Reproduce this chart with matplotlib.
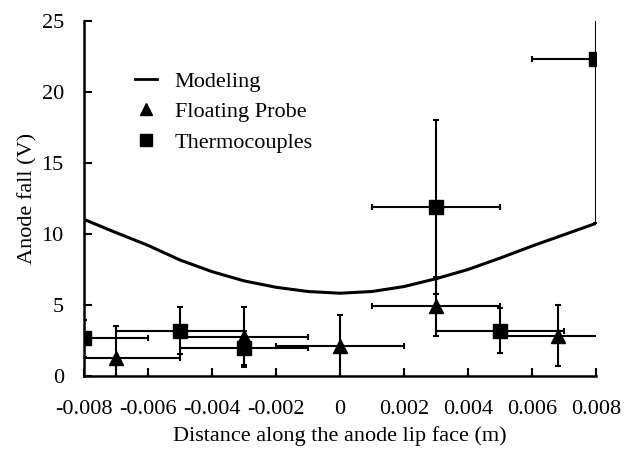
import matplotlib
matplotlib.use("Agg")
import matplotlib.pyplot as plt
from matplotlib.lines import Line2D

plt.rcParams['font.family'] = ['Liberation Serif', 'DejaVu Serif']

# Modeling curve
model_x = [-0.008, -0.007, -0.006, -0.005, -0.004, -0.003, -0.002, -0.001, 0.0,
           0.001, 0.002, 0.003, 0.004, 0.005, 0.006, 0.007, 0.008]
model_y = [11.03, 10.1, 9.2, 8.17, 7.35, 6.7, 6.25, 5.95, 5.83,
           5.95, 6.3, 6.85, 7.5, 8.3, 9.15, 9.95, 10.75]

# Floating probe
probe_x = [-0.007, -0.003, 0.0, 0.003, 0.0068]
probe_y = [1.3, 2.75, 2.1, 4.9, 2.85]
probe_xerr = [0.002, 0.002, 0.002, 0.002, 0.002]
probe_yerr = [2.2, 2.1, 2.2, 2.1, 2.15]

# Thermocouples
thermo_x = [-0.008, -0.005, -0.003, 0.003, 0.005, 0.008]
thermo_y = [2.65, 3.2, 1.95, 11.9, 3.2, 22.3]
thermo_xerr = [0.002, 0.002, 0.002, 0.002, 0.002, 0.002]
thermo_yerr = [1.3, 1.65, 1.2, 6.1, 1.6, 11.5]

xticks = [-0.008, -0.006, -0.004, -0.002, 0, 0.002, 0.004, 0.006, 0.008]
xticklabels = ['-0.008', '-0.006', '-0.004', '-0.002', '0', '0.002', '0.004', '0.006', '0.008']
yticks = [0, 5, 10, 15, 20, 25]

fig = plt.figure(figsize=(6.29, 4.5), dpi=100)
ax = fig.add_axes([0.1335, 0.1644, 0.814, 0.789])

ax.plot(model_x, model_y, color='black', lw=2.2, zorder=3)

ax.errorbar(probe_x, probe_y, xerr=probe_xerr, yerr=probe_yerr, fmt='^',
            color='black', ms=10, elinewidth=1.5, capsize=2.5, capthick=1.5, zorder=4)
ax.errorbar(thermo_x, thermo_y, xerr=thermo_xerr, yerr=thermo_yerr, fmt='s',
            color='black', ms=9.5, elinewidth=1.5, capsize=2.5, capthick=1.5, zorder=4)

ax.set_xlim(-0.008, 0.008)
ax.set_ylim(0, 25)
ax.set_xticks(xticks)
ax.set_xticklabels(xticklabels)
ax.set_yticks(yticks)
ax.tick_params(direction='in', length=6, width=1.5, labelsize=16)
ax.tick_params(axis='x', pad=17)
ax.tick_params(axis='y', pad=14.5)
for s in ['top', 'right']:
    ax.spines[s].set_visible(False)
for s in ['left', 'bottom']:
    ax.spines[s].set_linewidth(1.8)

ax.set_xlabel('Distance along the anode lip face (m)', fontsize=16)
ax.set_ylabel('Anode fall (V)', fontsize=16)
ax.xaxis.set_label_coords(0.5, -0.14)
ax.yaxis.set_label_coords(-0.09, 0.5)

handles = [Line2D([], [], color='black', lw=2),
           Line2D([], [], color='black', marker='^', ls='none', ms=9),
           Line2D([], [], color='black', marker='s', ls='none', ms=8)]
labels = ['Modeling', 'Floating Probe', 'Thermocouples']
ax.legend(handles, labels, loc='upper left', bbox_to_anchor=(0.06, 0.915),
          frameon=False, fontsize=16, handlelength=1.0, handletextpad=0.8,
          labelspacing=0.45)

fig.savefig('out.png', dpi=100)
